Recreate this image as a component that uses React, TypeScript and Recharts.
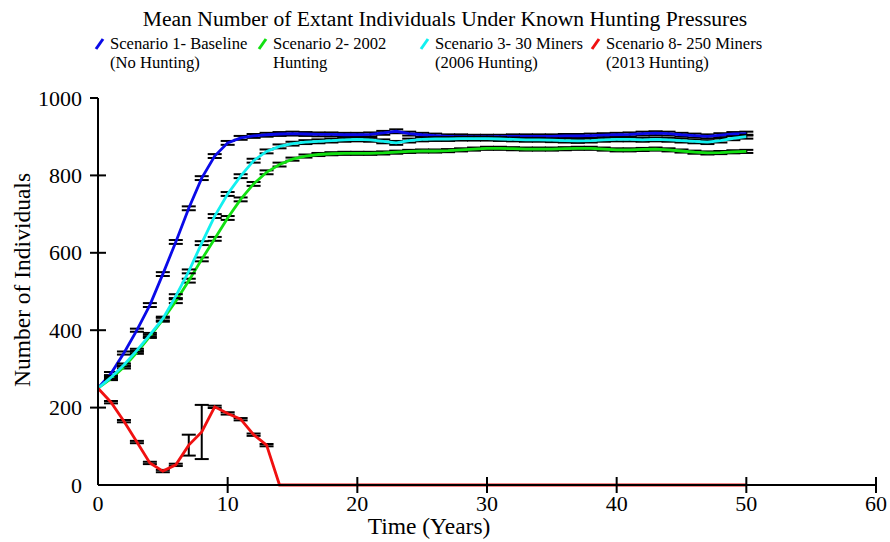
import React from 'react';
import { LineChart, Line, XAxis, YAxis, ErrorBar } from 'recharts';

const years = [
  0, 1, 2, 3, 4, 5, 6, 7, 8, 9, 10, 11, 12, 13, 14, 15, 16, 17, 18, 19, 20, 21, 22, 23, 24, 25,
  26, 27, 28, 29, 30, 31, 32, 33, 34, 35, 36, 37, 38, 39, 40, 41, 42, 43, 44, 45, 46, 47, 48, 49, 50
];

const baseline = [
  250, 288, 341, 400, 465, 545, 628, 715, 793, 850, 884, 897, 902, 905, 907, 908, 907, 906, 906, 905,
  905, 906, 910, 914, 908, 905, 903, 901, 901, 900, 900, 900, 901, 901, 901, 901, 902, 902, 903, 904,
  905, 906, 908, 909, 908, 905, 903, 901, 904, 907, 908
];
const hunting2002 = [
  250, 275, 305, 343, 384, 427, 475, 528, 583, 636, 690, 738, 778, 808, 828, 842, 850, 854, 856, 857,
  857, 857, 858, 860, 862, 863, 863, 864, 866, 868, 870, 870, 869, 868, 868, 868, 869, 870, 870, 868,
  866, 866, 867, 868, 866, 863, 860, 858, 859, 861, 862
];
const miners30 = [
  250, 278, 310, 348, 388, 430, 488, 552, 625, 695, 752, 798, 838, 862, 875, 882, 886, 888, 890, 892,
  893, 892, 888, 884, 890, 893, 894, 894, 895, 895, 895, 894, 893, 892, 892, 891, 890, 889, 890, 892,
  893, 893, 892, 893, 892, 890, 888, 886, 890, 896, 900
];
const miners250 = [
  250, 214, 165, 111, 57, 36, 52, 103, 137, 202, 185, 170, 130, 103, 0, 0, 0, 0, 0, 0,
  0, 0, 0, 0, 0, 0, 0, 0, 0, 0, 0, 0, 0, 0, 0, 0, 0, 0, 0, 0,
  0, 0, 0, 0, 0, 0, 0, 0, 0, 0, 0
];

const baselineErr = [
  0, 4, 4, 4, 5, 5, 5, 5, 5, 5, 5, 5, 5, 5, 5, 5, 5, 5, 5, 5,
  5, 5, 5, 5, 5, 5, 5, 5, 5, 5, 5, 5, 5, 5, 5, 5, 5, 5, 5, 5,
  5, 5, 5, 5, 5, 5, 5, 5, 5, 5, 5
];
const hunting2002Err = [
  0, 4, 4, 4, 4, 5, 5, 5, 5, 5, 5, 5, 5, 5, 5, 4, 4, 4, 4, 4,
  4, 4, 4, 4, 4, 4, 4, 4, 4, 4, 4, 4, 4, 4, 4, 4, 4, 4, 4, 4,
  4, 4, 4, 4, 4, 4, 4, 4, 4, 4, 4
];
const miners30Err = [
  0, 4, 4, 4, 5, 5, 5, 5, 5, 5, 5, 5, 5, 5, 5, 5, 5, 5, 5, 5,
  5, 5, 5, 5, 5, 5, 5, 5, 5, 5, 5, 5, 5, 5, 5, 5, 5, 5, 5, 5,
  5, 5, 5, 5, 5, 5, 5, 5, 5, 5, 5
];
const miners250Err = [
  0, 3, 3, 3, 3, 3, 3, 27, 70, 3, 3, 3, 3, 3, 0, 0, 0, 0, 0, 0,
  0, 0, 0, 0, 0, 0, 0, 0, 0, 0, 0, 0, 0, 0, 0, 0, 0, 0, 0, 0,
  0, 0, 0, 0, 0, 0, 0, 0, 0, 0, 0
];

const xTicks = [0, 10, 20, 30, 40, 50, 60];
const yTicks = [0, 200, 400, 600, 800, 1000];

const series = [
  { key: 's1', err: 'e1', color: '#0a0ae8', line1: 'Scenario 1- Baseline', line2: '(No Hunting)', left: 94 },
  { key: 's2', err: 'e2', color: '#12e012', line1: 'Scenario 2- 2002', line2: 'Hunting', left: 257 },
  { key: 's3', err: 'e3', color: '#12f0f0', line1: 'Scenario 3- 30 Miners', line2: '(2006 Hunting)', left: 419 },
  { key: 's8', err: 'e8', color: '#f01010', line1: 'Scenario 8- 250 Miners', line2: '(2013 Hunting)', left: 590 }
];

const data = years.map((t, i) => ({
  t,
  s1: baseline[i],
  s2: hunting2002[i],
  s3: miners30[i],
  s8: miners250[i],
  e1: baselineErr[i],
  e2: hunting2002Err[i],
  e3: miners30Err[i],
  e8: miners250Err[i]
}));

const FONT = '"Liberation Serif", "Times New Roman", serif';
const AXIS_X = 98;
const AXIS_Y = 485;

const YTick = (props: any) => {
  const { y, payload } = props;
  const cy = payload.coordinate ?? y;
  return (
    <g>
      {payload.value !== 0 && (
        <line x1={AXIS_X - 8} x2={payload.value === 1000 ? AXIS_X : AXIS_X + 8} y1={cy} y2={cy} stroke="#000" strokeWidth={2} />
      )}
      <text x={AXIS_X - 16} y={cy} textAnchor="end" dominantBaseline="central" fontSize={22} fontFamily={FONT} fill="#000">
        {payload.value}
      </text>
    </g>
  );
};

const XTick = (props: any) => {
  const { x, payload } = props;
  const cx = payload.coordinate ?? x;
  return (
    <g>
      {payload.value !== 0 && (
        <line x1={cx} x2={cx} y1={AXIS_Y - 8} y2={AXIS_Y + 8} stroke="#000" strokeWidth={2} />
      )}
      <text x={cx} y={AXIS_Y + 18} textAnchor="middle" dominantBaseline="central" fontSize={22} fontFamily={FONT} fill="#000">
        {payload.value}
      </text>
    </g>
  );
};

export default function App() {
  return (
    <div style={{ position: 'fixed', left: 0, top: 0, width: 890, height: 542, fontFamily: FONT, color: '#000', background: '#fff' }}>
      <div style={{ position: 'absolute', left: 0, width: 890, top: 8, textAlign: 'center', fontSize: 21.6, lineHeight: '22px' }}>
        Mean Number of Extant Individuals Under Known Hunting Pressures
      </div>
      {series.map((s) => (
        <div key={s.key} style={{ position: 'absolute', left: s.left, top: 34, fontSize: 16.6, lineHeight: '19px' }}>
          <svg width={12} height={14} style={{ position: 'absolute', left: 0, top: 3 }}>
            <line x1={2} y1={12} x2={9} y2={2} stroke={s.color} strokeWidth={3} />
          </svg>
          <div style={{ marginLeft: 16, whiteSpace: 'nowrap' }}>
            {s.line1}
            <br />
            {s.line2}
          </div>
        </div>
      ))}
      <div
        style={{
          position: 'absolute',
          left: 22,
          top: 280,
          fontSize: 23.5,
          whiteSpace: 'nowrap',
          transform: 'translate(-50%, -50%) rotate(-90deg)'
        }}
      >
        Number of Individuals
      </div>
      <div
        style={{
          position: 'absolute',
          left: 429,
          top: 527,
          fontSize: 23.5,
          lineHeight: 1,
          whiteSpace: 'nowrap',
          transform: 'translate(-50%, -50%)'
        }}
      >
        Time (Years)
      </div>
      <LineChart width={890} height={542} data={data} margin={{ top: 98, right: 14, bottom: 0, left: 0 }}>
        <XAxis
          dataKey="t"
          type="number"
          domain={[0, 60]}
          ticks={xTicks}
          interval={0}
          height={57}
          tickLine={false}
          tick={<XTick />}
          axisLine={{ stroke: '#000', strokeWidth: 2 }}
        />
        <YAxis
          type="number"
          domain={[0, 1000]}
          ticks={yTicks}
          interval={0}
          width={98}
          tickLine={false}
          tick={<YTick />}
          axisLine={{ stroke: '#000', strokeWidth: 2 }}
        />
        {series.map((s) => (
          <Line
            key={s.key}
            type="linear"
            dataKey={s.key}
            stroke={s.color}
            strokeWidth={2.8}
            dot={false}
            isAnimationActive={false}
          >
            <ErrorBar dataKey={s.err} width={7} stroke="#000" strokeWidth={2} direction="y" isAnimationActive={false} />
          </Line>
        ))}
      </LineChart>
    </div>
  );
}
